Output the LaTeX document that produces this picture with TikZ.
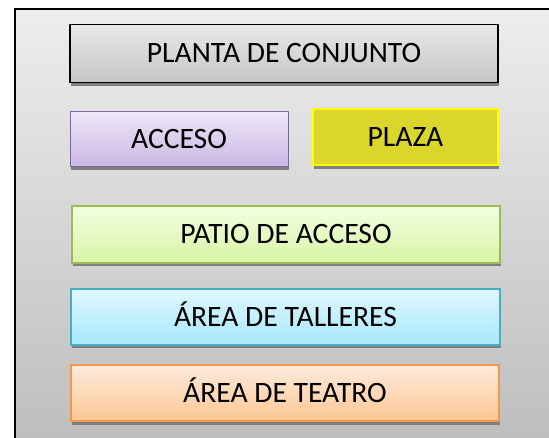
\documentclass[tikz,border=0pt]{standalone}
\usepackage{fontspec}
\setmainfont{Carlito}
\definecolor{bgtop}{HTML}{EDEDED}
\definecolor{bgbot}{HTML}{BEBEBE}
\definecolor{shadowc}{HTML}{7F7F7F}
\definecolor{plantop}{HTML}{E8E8E8}
\definecolor{planbot}{HTML}{C6C6C6}
\definecolor{acctop}{HTML}{EEE6F8}
\definecolor{accbot}{HTML}{CAB7E4}
\definecolor{accline}{HTML}{8064A2}
\definecolor{plazafill}{HTML}{DBD62B}
\definecolor{plazaline}{HTML}{FFFF00}
\definecolor{pattop}{HTML}{F2FEE2}
\definecolor{patbot}{HTML}{D8F4A4}
\definecolor{patline}{HTML}{9BBB59}
\definecolor{taltop}{HTML}{E0F7FF}
\definecolor{talbot}{HTML}{A6E8FB}
\definecolor{talline}{HTML}{4BACC6}
\definecolor{teatop}{HTML}{FFEADC}
\definecolor{teabot}{HTML}{FCC794}
\definecolor{tealine}{HTML}{F79646}
\begin{document}
\begin{tikzpicture}[x=1pt,y=-1pt,
  box/.style={rectangle, inner sep=0pt, line width=1pt,
    font=\fontsize{29.6}{35}\selectfont, text height=19pt, text depth=0pt,
    preaction={fill=shadowc, transform canvas={xshift=1.2pt,yshift=-3.5pt}}},
  plan/.style={box, draw=black, line width=1.2pt, top color=plantop, bottom color=planbot},
  acc/.style={box, draw=accline, top color=acctop, bottom color=accbot},
  plz/.style={box, draw=plazaline, line width=2pt, fill=plazafill},
  pat/.style={box, draw=patline, line width=1.3pt, top color=pattop, bottom color=patbot},
  tal/.style={box, draw=talline, line width=1.3pt, top color=taltop, bottom color=talbot},
  tea/.style={box, draw=tealine, line width=1.3pt, top color=teatop, bottom color=teabot}]
\useasboundingbox (0,0) rectangle (549,438);
\fill[white] (0,0) rectangle (549,438);
\draw[line width=1.6pt, top color=bgtop, bottom color=bgbot] (15,9) rectangle (552,441);
\node[plan, minimum width=428pt, minimum height=58pt] (planta) at (284,53.5) {PLANTA DE CONJUNTO};
\node[acc, minimum width=218pt, minimum height=55pt] (acceso) at (179,139) {ACCESO};
\node[plz, minimum width=185pt, minimum height=56pt] (plaza) at (405.5,137.5) {PLAZA};
\node[pat, minimum width=428pt, minimum height=57pt] (patio) at (286,234.5) {PATIO DE ACCESO};
\node[tal, minimum width=429pt, minimum height=56pt] (talleres) at (285.5,317) {ÁREA DE TALLERES};
\node[tea, minimum width=428pt, minimum height=56pt] (teatro) at (285,393) {ÁREA DE TEATRO};
\end{tikzpicture}
\end{document}
